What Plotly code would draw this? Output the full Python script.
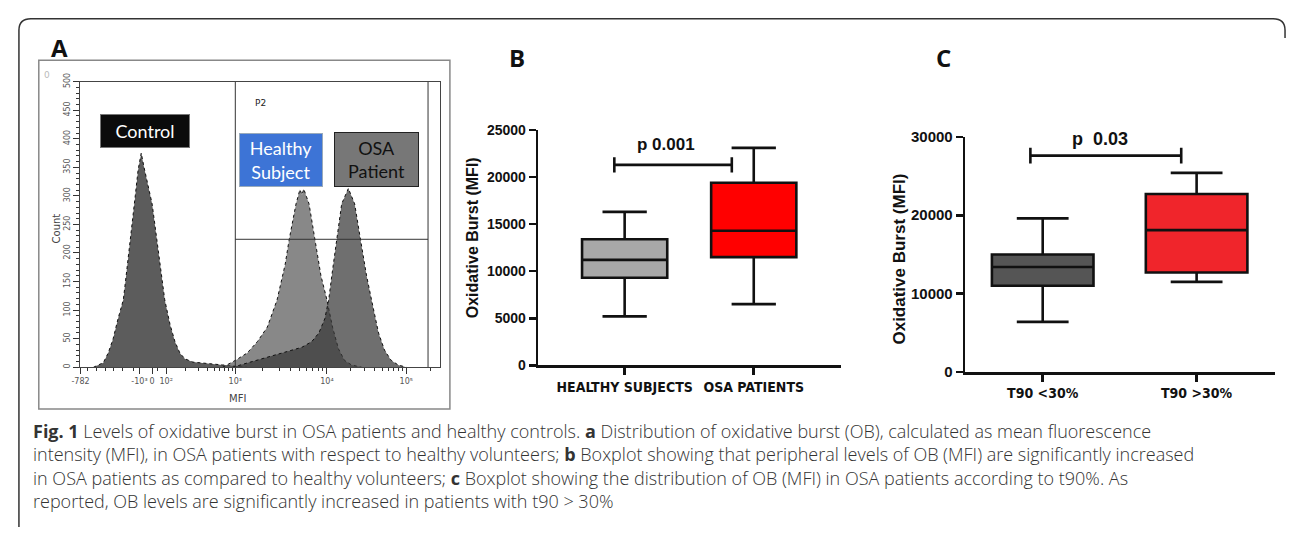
import math
import plotly.graph_objects as go

W, H = 1290, 535


def fx(p):
    return p / W


def fy(p):
    return 1 - p / H


# ---------------- Panel A data (flow cytometry histogram, channel units 0-1024) ----------------
a_tick_vals = [0, 168, 204, 244, 441, 702, 928]
a_tick_text = ["-782", "-10³", "0", "10²", "10³", "10⁴", "10⁵"]
decade_vals = [240, 441, 702, 928, 1154]

ctrl_ch = [37, 65, 79, 93, 107, 122, 130, 139, 147, 156, 164, 173, 181, 192, 204, 215, 226, 240, 255, 269, 283, 297, 320, 362, 405, 441, 475]
ctrl_cnt = [0, 8, 25, 50, 85, 118, 160, 205, 250, 300, 345, 375, 350, 318, 286, 235, 185, 118, 75, 45, 25, 15, 9, 6, 4, 2, 0]

healthy_ch = [405, 441, 475, 504, 532, 560, 583, 594, 614, 625, 631, 636, 651, 668, 685, 702, 718, 735, 752, 772, 801]
healthy_cnt = [0, 12, 25, 45, 70, 118, 180, 222, 286, 311, 302, 312, 286, 222, 160, 118, 70, 32, 12, 4, 0]

osa_ch = [433, 461, 504, 546, 588, 631, 659, 679, 696, 707, 718, 730, 744, 763, 781, 798, 815, 829, 849, 866, 885, 905, 928]
osa_cnt = [0, 5, 12, 20, 28, 35, 45, 60, 85, 118, 170, 222, 286, 313, 286, 222, 160, 118, 60, 30, 12, 4, 0]

gate_left, gate_right, gate_count = 441, 990, 224

# ---------------- Panel B data ----------------
b_cats = ["HEALTHY SUBJECTS", "OSA PATIENTS"]
b_q1 = [9300, 11500]
b_med = [11200, 14300]
b_q3 = [13400, 19400]
b_low = [5200, 6500]
b_high = [16300, 23100]
b_colors = ["#a8a8a8", "#ff0000"]
b_sig_x = [-0.08, 0.83]
b_sig_y = 21300
b_sig_text = "p 0.001"

# ---------------- Panel C data ----------------
c_cats = ["T90 <30%", "T90 >30%"]
c_q1 = [11000, 12700]
c_med = [13400, 18100]
c_q3 = [15000, 22700]
c_low = [6400, 11500]
c_high = [19600, 25400]
c_colors = ["#555555", "#f0252b"]
c_sig_x = [-0.08, 0.90]
c_sig_y = 27600
c_sig_text = "p  0.03"

caption_lines = [
    "<b>Fig. 1</b> Levels of oxidative burst in OSA patients and healthy controls. <b>a</b> Distribution of oxidative burst (OB), calculated as mean fluorescence",
    "intensity (MFI), in OSA patients with respect to healthy volunteers; <b>b</b> Boxplot showing that peripheral levels of OB (MFI) are significantly increased",
    "in OSA patients as compared to healthy volunteers; <b>c</b> Boxplot showing the distribution of OB (MFI) in OSA patients according to t90%. As",
    "reported, OB levels are significantly increased in patients with t90 &gt; 30%",
]

# minor ticks for the biexponential axis
a_minor = []
for i in range(len(decade_vals) - 1):
    p0, p1 = decade_vals[i], decade_vals[i + 1]
    for k in range(2, 10):
        v = p0 + math.log10(k) * (p1 - p0)
        if v < 1024:
            a_minor.append(v)
a_minor += [20, 45, 70, 95, 120, 150, 220]

fig = go.Figure()

# ---- Panel A traces ----
hist_specs = [
    (ctrl_ch, ctrl_cnt, "rgba(70,70,70,0.88)"),
    (healthy_ch, healthy_cnt, "rgba(85,85,85,0.7)"),
    (osa_ch, osa_cnt, "rgba(55,55,55,0.72)"),
]
for xs, ys, col in hist_specs:
    fig.add_trace(go.Scatter(
        x=xs, y=ys, mode="lines", fill="tozeroy", fillcolor=col,
        line=dict(color="#111", width=1, dash="dot"),
        xaxis="x", yaxis="y", hoverinfo="skip"))

# gate lines
fig.add_trace(go.Scatter(
    x=[gate_left, gate_left, None, gate_left, gate_right, None, gate_right, gate_right],
    y=[0, 500, None, gate_count, gate_count, None, 0, 500],
    mode="lines", line=dict(color="#333", width=1), xaxis="x", yaxis="y", hoverinfo="skip"))


# ---- Box traces ----
def add_boxes(cats, q1, med, q3, lo, hi, colors, xa, ya, wwidth):
    for i in range(len(cats)):
        fig.add_trace(go.Box(
            x=[i], q1=[q1[i]], median=[med[i]], q3=[q3[i]],
            lowerfence=[lo[i]], upperfence=[hi[i]],
            width=0.66, whiskerwidth=wwidth, fillcolor=colors[i],
            line=dict(color="#111", width=2.6), boxpoints=False,
            xaxis=xa, yaxis=ya, hoverinfo="skip"))


add_boxes(b_cats, b_q1, b_med, b_q3, b_low, b_high, b_colors, "x2", "y2", 0.52)
add_boxes(c_cats, c_q1, c_med, c_q3, c_low, c_high, c_colors, "x3", "y3", 0.51)


def add_sig(xs, yv, cap, xa, ya):
    fig.add_trace(go.Scatter(
        x=[xs[0], xs[0], None, xs[0], xs[1], None, xs[1], xs[1]],
        y=[yv - cap, yv + cap, None, yv, yv, None, yv - cap, yv + cap],
        mode="lines", line=dict(color="#111", width=2.6),
        xaxis=xa, yaxis=ya, hoverinfo="skip"))


add_sig(b_sig_x, b_sig_y, 820, "x2", "y2")
add_sig(c_sig_x, c_sig_y, 1000, "x3", "y3")

bold_font = dict(family="Liberation Sans, Arial", color="#111", weight=700)
narrow_font = dict(family="Liberation Sans Narrow, DejaVu Sans Condensed, Liberation Sans",
                   color="#111", weight=700, size=14)

fig.update_layout(
    width=W, height=H, margin=dict(l=0, r=0, t=0, b=0),
    paper_bgcolor="white", plot_bgcolor="white", showlegend=False,
    xaxis=dict(
        domain=[fx(72), fx(434)], range=[0, 1024], anchor="y",
        tickmode="array", tickvals=a_tick_vals, ticktext=a_tick_text, tickangle=0,
        ticks="outside", ticklen=6, tickcolor="#333", tickwidth=1,
        tickfont=dict(family="DejaVu Sans", size=8, color="#555"),
        showline=True, mirror=True, linecolor="#444", linewidth=1,
        showgrid=False, zeroline=False,
        minor=dict(tickmode="array", tickvals=a_minor, ticks="outside", ticklen=3, tickcolor="#333")),
    yaxis=dict(
        domain=[fy(370), fy(75)], range=[0, 500], anchor="x",
        tickmode="linear", tick0=0, dtick=50, tickangle=-90,
        ticks="outside", ticklen=6, tickcolor="#333", tickwidth=1,
        tickfont=dict(family="DejaVu Sans", size=8, color="#555"),
        showline=True, mirror=True, linecolor="#444", linewidth=1,
        showgrid=False, zeroline=False,
        minor=dict(dtick=10, ticks="outside", ticklen=3, tickcolor="#333")),
    xaxis2=dict(
        domain=[fx(533), fx(838)], range=[-0.669, 1.677], anchor="y2",
        tickmode="array", tickvals=[0, 1], ticktext=b_cats, tickangle=0,
        ticks="outside", ticklen=7, tickwidth=2.6, tickcolor="#111",
        tickfont=narrow_font, showline=True, linecolor="#111", linewidth=2.6,
        showgrid=False, zeroline=False),
    yaxis2=dict(
        domain=[fy(368), fy(125)], range=[0, 25000], anchor="x2",
        tickmode="linear", tick0=0, dtick=5000, tickformat="d",
        ticks="outside", ticklen=7, tickwidth=2.6, tickcolor="#111",
        tickfont=dict(bold_font, size=14), showline=True, linecolor="#111", linewidth=2.6,
        showgrid=False, zeroline=False),
    xaxis3=dict(
        domain=[fx(963), fx(1275)], range=[-0.503, 1.51], anchor="y3",
        tickmode="array", tickvals=[0, 1], ticktext=c_cats, tickangle=0,
        ticks="outside", ticklen=7, tickwidth=2.6, tickcolor="#111",
        tickfont=narrow_font, showline=True, linecolor="#111", linewidth=2.6,
        showgrid=False, zeroline=False),
    yaxis3=dict(
        domain=[fy(375), fy(132)], range=[0, 30000], anchor="x3",
        tickmode="linear", tick0=0, dtick=10000, tickformat="d",
        ticks="outside", ticklen=7, tickwidth=2.6, tickcolor="#111",
        tickfont=dict(bold_font, size=15), showline=True, linecolor="#111", linewidth=2.6,
        showgrid=False, zeroline=False),
)

shapes = []
# outer figure border (left side + top with rounded corners)
r = 12
path = (f"M {fx(10)},{fy(535)} L {fx(10)},{fy(10 + r)} Q {fx(10)},{fy(10)} {fx(10 + r)},{fy(10)} "
        f"L {fx(1285 - r)},{fy(10)} Q {fx(1285)},{fy(10)} {fx(1285)},{fy(10 + r)} L {fx(1285)},{fy(30)}")
shapes.append(dict(type="path", xref="paper", yref="paper", path=path,
                   line=dict(color="#333", width=1.5)))
# panel A frame
shapes.append(dict(type="rect", xref="paper", yref="paper", x0=fx(30), x1=fx(444), y0=fy(413), y1=fy(53),
                   line=dict(color="#888", width=1.5)))
fig.update_layout(shapes=shapes)

ann = []


def add_ann(text, x, y, size, color="#111", family="Liberation Sans, Arial", weight=400, xanchor="center",
            yanchor="middle", angle=0, xref="paper", yref="paper", **kw):
    ann.append(dict(text=text, x=x, y=y, xref=xref, yref=yref, showarrow=False, xanchor=xanchor,
                    yanchor=yanchor, textangle=angle,
                    font=dict(size=size, color=color, family=family, weight=weight), **kw))


# panel letters
add_ann("A", fx(51), fy(40), 24, weight=700, family="Open Sans, Liberation Sans")
add_ann("B", fx(512), fy(50), 24, weight=700, family="Open Sans, Liberation Sans")
add_ann("C", fx(941), fy(50), 24, weight=700, family="Open Sans, Liberation Sans")

# panel A texts
add_ann("Control", fx(137), fy(126), 18, color="white", family="Lato, Open Sans",
        bgcolor="#0b0b0b", bordercolor="#777", borderwidth=1, width=86, height=30)
add_ann("Healthy<br>Subject", fx(274), fy(156), 18, color="white", family="Lato, Open Sans",
        bgcolor="#3d74d6", bordercolor="#9ab", borderwidth=1, width=80, height=50)
add_ann("OSA<br>Patient", fx(370), fy(155), 18, color="#111", family="Lato, Open Sans",
        bgcolor="#777777", bordercolor="#222", borderwidth=1, width=81, height=51)
add_ann("P2", fx(253), fy(97), 9, color="#222", family="DejaVu Sans")
add_ann("0", fx(38), fy(68), 9, color="#bbb", family="DejaVu Sans")
add_ann("Count", fx(48), fy(227), 10, color="#444", family="DejaVu Sans", angle=-90)
add_ann("MFI", fx(230), fy(402), 10, color="#444", family="DejaVu Sans")

# panel B/C texts
add_ann("Oxidative Burst (MFI)", fx(467), fy(236), 16, weight=700, angle=-90)
add_ann("Oxidative Burst (MFI)", fx(897), fy(258), 17, weight=700, angle=-90)
add_ann(b_sig_text, 0.32, 23450, 17, weight=700, xref="x2", yref="y2")
add_ann(c_sig_text, 0.37, 29700, 18, weight=700, xref="x3", yref="y3")

# caption (one multi-line text block)
add_ann("<br>".join(caption_lines), fx(22), fy(472), 18, color="#333", family="Open Sans, Lato",
        weight=300, xanchor="left", align="left")

fig.update_layout(annotations=ann)

fig.write_html("out.html", config={"displayModeBar": False, "staticPlot": True},
               post_script="document.body.style.margin='0';")
